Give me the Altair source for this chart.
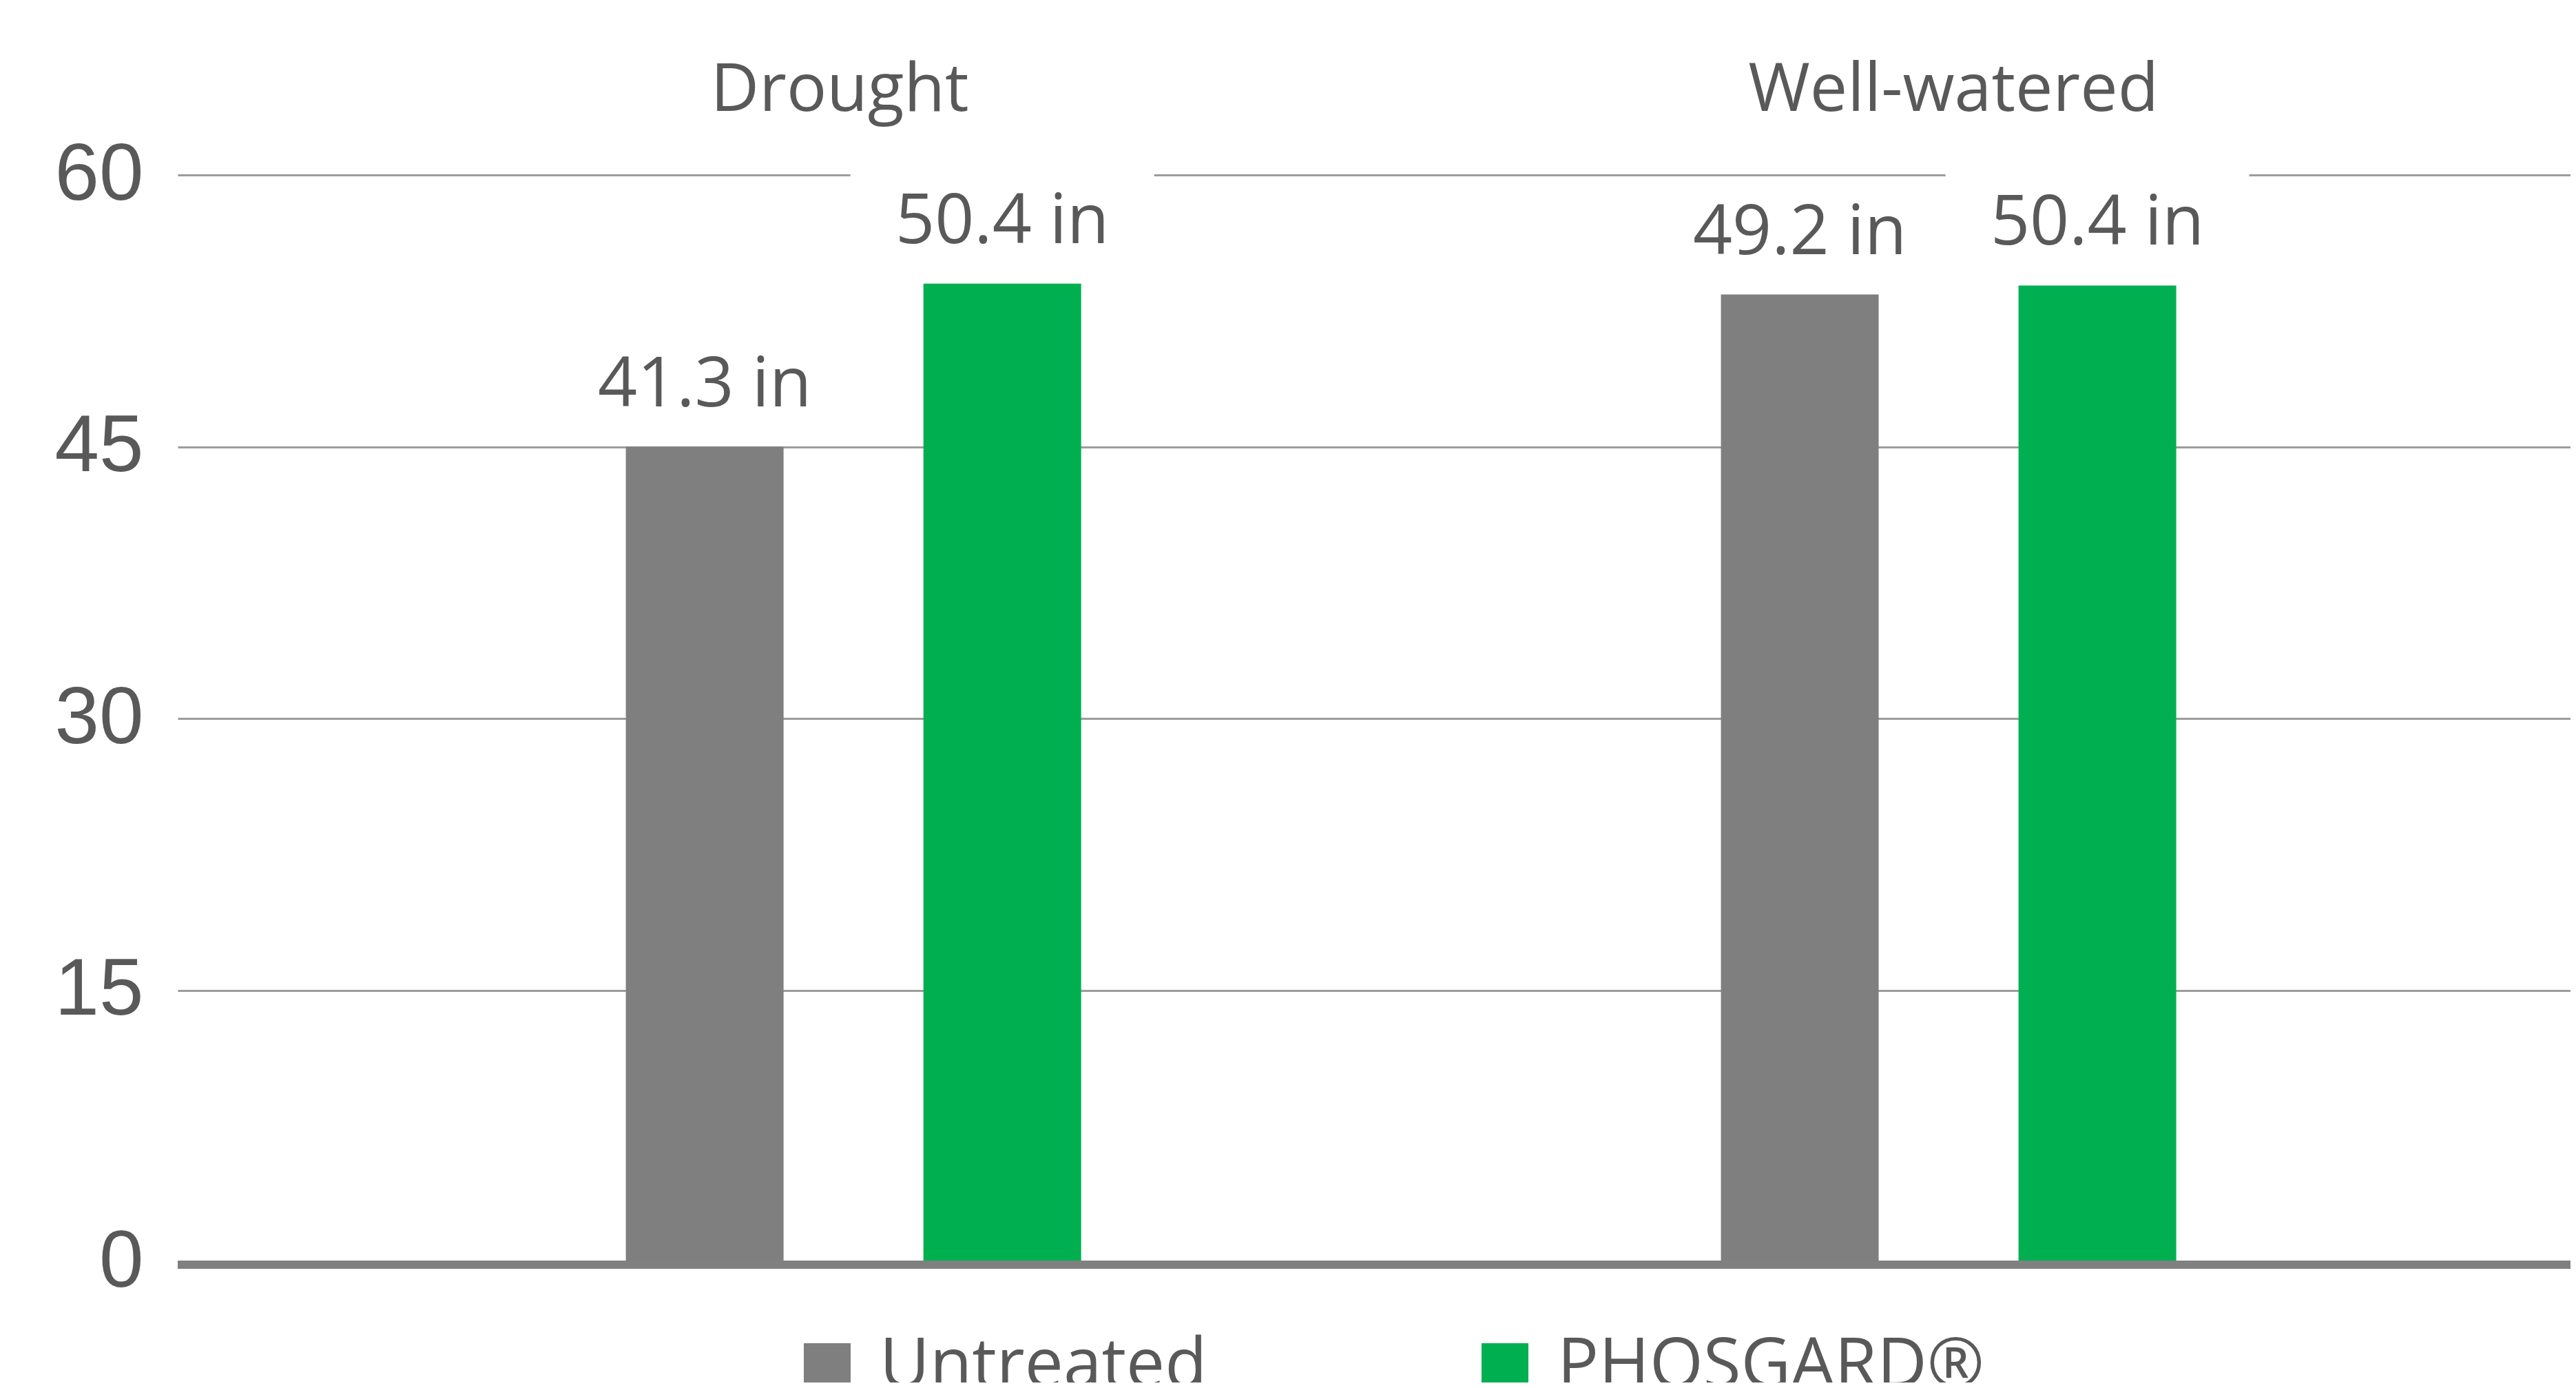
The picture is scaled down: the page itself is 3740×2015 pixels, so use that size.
import altair as alt
import pandas as pd

# ---- data ----
groups = ["Drought", "Drought", "Well-watered", "Well-watered"]
treatments = ["Untreated", "PHOSGARD\u00ae", "Untreated", "PHOSGARD\u00ae"]
bar_heights = [45.0, 54.0, 53.4, 53.9]      # drawn bar heights (y axis units)
label_values = [41.3, 50.4, 49.2, 50.4]     # printed labels (inches)
y_ticks = [0, 15, 30, 45, 60]
group_order = ["Drought", "Well-watered"]
treat_order = ["Untreated", "PHOSGARD\u00ae"]
treat_colors = ["#7F7F7F", "#00B050"]

df = pd.DataFrame({
    "group": groups,
    "treatment": treatments,
    "height": bar_heights,
    "label": label_values,
})

TEXT = "#595959"
FONT = "Open Sans"

x_scale = alt.Scale(domain=group_order, paddingInner=0, paddingOuter=0.0925, align=0.633)
x_axis = alt.Axis(
    orient="top", title=None, domain=False, ticks=False, tickSize=0, grid=False,
    labelFont=FONT, labelFontSize=97, labelColor=TEXT, labelLimit=0,
    labelBaseline="alphabetic", labelPadding=94, labelAngle=0,
    labelOffset=alt.ExprRef(expr="datum.value == 'Drought' ? -20 : 7"),
)
x_enc = alt.X("group:N", sort=group_order, scale=x_scale, axis=x_axis, title=None)

xoff = alt.XOffset("treatment:N", sort=treat_order,
                   scale=alt.Scale(domain=treat_order, paddingInner=0.32, paddingOuter=1))

y_scale = alt.Scale(domain=[0, 60], nice=False, zero=True)
y_axis = alt.Axis(
    values=y_ticks, title=None, domain=False, ticks=False,
    grid=True, gridColor="#9C9C9C", gridWidth=3,
    labelFont="Liberation Sans", labelFontSize=116, labelColor=TEXT,
    labelPadding=50,
)


def yenc(field):
    return alt.Y(field, scale=y_scale, axis=y_axis, title=None)


base = alt.Chart(df)

# white boxes behind the labels (they break the gridlines like in the source)
boxes = base.transform_calculate(
    box_lo="datum.height + 1",
    box_hi="datum.height + 6.27",
).mark_bar(color="white", width=441).encode(
    x=x_enc,
    xOffset=xoff,
    y=yenc("box_lo:Q"),
    y2="box_hi:Q",
)

bars = base.mark_bar(width=229).encode(
    x=x_enc,
    xOffset=xoff,
    y=yenc("height:Q"),
    color=alt.Color(
        "treatment:N",
        sort=treat_order,
        scale=alt.Scale(domain=treat_order, range=treat_colors),
        legend=alt.Legend(
            title=None, orient="none", legendX=893, legendY=1680,
            direction="horizontal", symbolType="square", symbolSize=4624,
            symbolStrokeWidth=0, labelFont=FONT, labelFontSize=100,
            labelColor=TEXT, labelOffset=26, columnPadding=382, padding=0,
            labelLimit=0,
        ),
    ),
)

labels = base.transform_calculate(
    txt="format(datum.label, '.1f') + ' in'"
).mark_text(
    baseline="alphabetic", dy=-59, font=FONT, fontSize=100, color=TEXT,
).encode(
    x=x_enc,
    xOffset=xoff,
    y=yenc("height:Q"),
    text="txt:N",
)

baseline = alt.Chart(pd.DataFrame({"v": [0]})).mark_rule(
    color="#808080", strokeWidth=12, yOffset=4
).encode(y=yenc("v:Q"))

chart = alt.layer(boxes, bars, labels, baseline).properties(
    width=3474,
    height=1578,
    autosize=alt.AutoSizeParams(type="none"),
    padding={"left": 250, "top": 246, "right": 0, "bottom": 175},
    background="white",
).configure_view(stroke=None)

chart.save("out.html", embed_options={"renderer": "svg", "actions": False})
